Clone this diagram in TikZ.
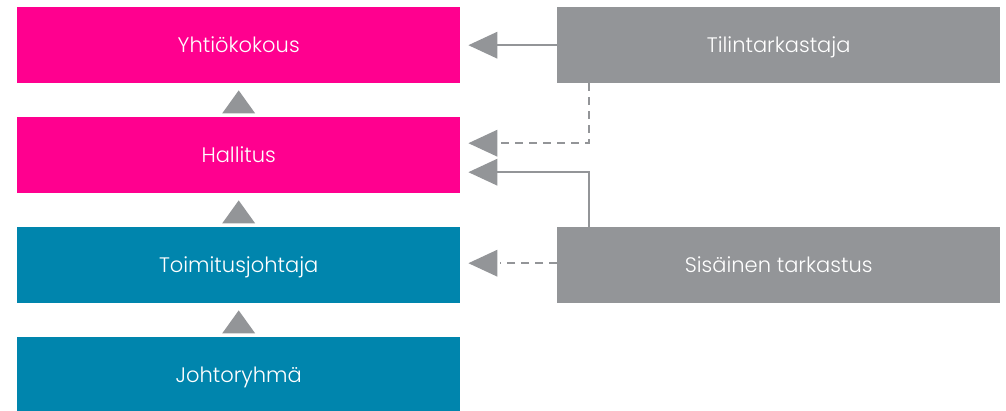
\documentclass[tikz,border=0pt]{standalone}
\usepackage{fontspec}
\setmainfont{Poppins}[UprightFont=* Light]
\usetikzlibrary{calc}
\definecolor{magentaC}{HTML}{FF008F}
\definecolor{tealC}{HTML}{0085AD}
\definecolor{grayC}{HTML}{939598}
\begin{document}
\begin{tikzpicture}[x=1pt,y=-1pt,
  box/.style={minimum width=443pt,minimum height=76pt,inner sep=0pt,text height=14.5pt,text depth=0pt,text=white,font=\fontsize{21}{24}\selectfont,anchor=north west},
  pinkbox/.style={box,fill=magentaC},
  bluebox/.style={box,fill=tealC},
  graybox/.style={box,fill=grayC},
  conn/.style={draw=grayC,line width=2.4pt},
  dconn/.style={conn,dash pattern=on 8pt off 6pt},
  tri/.style={fill=grayC},
]
\useasboundingbox (0,0) rectangle (1006,411);
\begin{scope}
\clip (0,0) rectangle (1006,411);
\node[pinkbox] (yk) at (17,7) {Yhtiökokous};
\node[pinkbox] (ha) at (17,117) {Hallitus};
\node[bluebox] (tj) at (17,227) {Toimitusjohtaja};
\node[bluebox] (jr) at (17,337) {Johtoryhmä};
\node[graybox] (tt) at (557,7) {Tilintarkastaja};
\node[graybox] (st) at (557,227) {Sisäinen tarkastus};
\end{scope}
% up triangles
\foreach \a/\b in {ha/yk,tj/ha,jr/tj}{
  \fill[tri] ($(\b.south)+(0,7)$) -- ++(16.5,23) -- ++(-33,0) -- cycle;
}
% arrow heads and connectors
\coordinate (h1) at ($(ha.east)+(0,-12)$);
\coordinate (h2) at ($(ha.east)+(0,17)$);
\coordinate (v1) at ($(tt.south west)+(32,0)$);
\coordinate (v2) at ($(st.north west)+(32,0)$);
\draw[conn] (tt.west) -- ($(yk.east)+(37,0)$);
\draw[dconn] (v1) -- (v1 |- h1) -- ($(h1)+(37,0)$);
\draw[conn] (v2) -- (v2 |- h2) -- ($(h2)+(37,0)$);
\draw[dconn] ($(st.west)+(0,-2)$) -- ($(tj.east)+(40,-2)$);
\foreach \p in {yk.east,h1,h2}{
  \fill[tri] ($(\p)+(8,0)$) -- ++(29,-13.5) -- ++(0,27) -- cycle;
}
\fill[tri] ($(tj.east)+(8,-2)$) -- ++(29,-13.5) -- ++(0,27) -- cycle;
\end{tikzpicture}
\end{document}
